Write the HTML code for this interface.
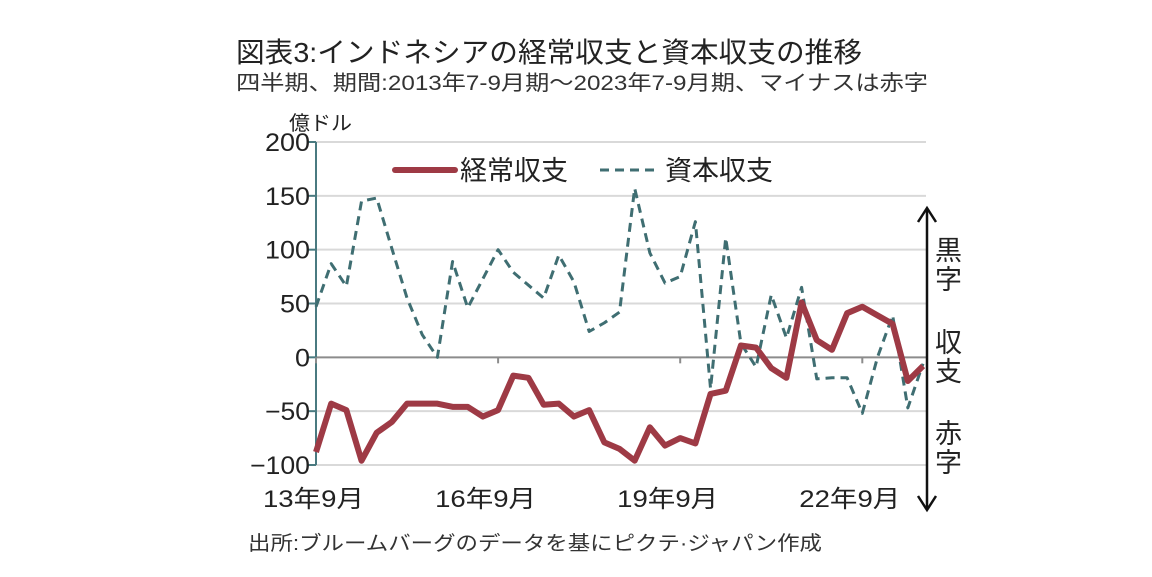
<!DOCTYPE html>
<html><head><meta charset="utf-8"><style>
html,body{margin:0;padding:0;background:#fff;}
svg{display:block;font-family:"Liberation Sans","Noto Sans CJK JP",sans-serif;}
</style></head><body>
<svg id="chart" width="1152" height="577" viewBox="0 0 1152 577" xmlns="http://www.w3.org/2000/svg">
<text x="236" y="62" font-size="28" fill="#222" textLength="626" lengthAdjust="spacingAndGlyphs">図表3:インドネシアの経常収支と資本収支の推移</text>
<text x="236" y="90" font-size="21" fill="#333" textLength="692" lengthAdjust="spacingAndGlyphs">四半期、期間:2013年7-9月期～2023年7-9月期、マイナスは赤字</text>
<text x="289" y="130" font-size="20" fill="#222" textLength="63" lengthAdjust="spacingAndGlyphs">億ドル</text>
<g id="grid"></g>
<g id="yaxis"></g>
<g id="xaxis"></g>
<g id="series"></g>
<g>
<line x1="395" y1="170" x2="455" y2="170" stroke="#9e3a45" stroke-width="6" stroke-linecap="round"/>
<text x="460" y="180" font-size="27" fill="#222" textLength="108" lengthAdjust="spacingAndGlyphs">経常収支</text>
<line x1="600" y1="170" x2="655" y2="170" stroke="#3f6e72" stroke-width="3" stroke-dasharray="9,6"/>
<text x="665" y="180" font-size="27" fill="#222" textLength="108" lengthAdjust="spacingAndGlyphs">資本収支</text>
</g>
<g>
<line x1="927" y1="208" x2="927" y2="510" stroke="#111" stroke-width="2.5"/>
<polyline points="918,222 927,208 936,222" fill="none" stroke="#111" stroke-width="2.5"/>
<polyline points="918,496 927,510 936,496" fill="none" stroke="#111" stroke-width="2.5"/>
<text font-size="27" fill="#222"><tspan x="935" y="260">黒</tspan><tspan x="935" y="289">字</tspan></text>
<text font-size="27" fill="#222"><tspan x="935" y="352">収</tspan><tspan x="935" y="381">支</tspan></text>
<text font-size="27" fill="#222"><tspan x="935" y="443">赤</tspan><tspan x="935" y="472">字</tspan></text>
</g>
<text x="248" y="550" font-size="20" fill="#333" textLength="574" lengthAdjust="spacingAndGlyphs">出所:ブルームバーグのデータを基にピクテ·ジャパン作成</text>
</svg>
<script>
const currentAccount=[-88,-43,-49,-96,-70,-60,-43,-43,-43,-46,-46,-55,-49,-17,-19,-44,-43,-55,-49,-79,-85,-96,-65,-82,-75,-80,-34,-31,11,9,-10,-19,51,16,7,41,47,39,31,-22,-8];
const capitalAccount=[47,87,66,145,148,101,55,21,0,89,46,73,100,79,67,55,95,70,24,32,42,157,97,69,75,126,-29,111,13,-9,58,18,65,-20,-19,-19,-52,0,39,-47,-6];
const yTicks=[200,150,100,50,0,-50,-100];
const xTickIdx=[0,12,24,36];
const xTickLabels=["13年9月","16年9月","19年9月","22年9月"];
const NS="http://www.w3.org/2000/svg";
const x0=316,x1=923,yTop=142,yBot=465,vMax=200,vMin=-100;
const n=currentAccount.length;
const xs=i=>x0+(x1-x0)*i/(n-1);
const ys=v=>yTop+(vMax-v)*(yBot-yTop)/(vMax-vMin);
function mk(tag,attrs,parent){const e=document.createElementNS(NS,tag);for(const k in attrs)e.setAttribute(k,attrs[k]);parent.appendChild(e);return e;}
const grid=document.getElementById('grid'),yax=document.getElementById('yaxis'),xax=document.getElementById('xaxis'),ser=document.getElementById('series');
yTicks.forEach(v=>{
  const g=mk('line',{x1:x0,x2:926,y1:ys(v),y2:ys(v),stroke:v===0?'#8c8c8c':'#d9d9d9','stroke-width':2},grid);
  
  
  const t=mk('line',{x1:x0-8,x2:x0,y1:ys(v),y2:ys(v),stroke:'#4a7a80','stroke-width':2},yax);
  
  
  const s=v<0?'−'+Math.abs(v):String(v);
  const l=mk('text',{x:x0-6,y:ys(v)+9,'font-size':25,'text-anchor':'end',fill:'#222',textLength:s.length*15,lengthAdjust:'spacingAndGlyphs'},yax);
  
  
  l.textContent=s;
});
const ax=mk('line',{x1:x0,x2:x0,y1:yTop,y2:yBot,stroke:'#4a7a80','stroke-width':2},yax);


xTickIdx.forEach((idx,k)=>{
  const t=mk('line',{x1:xs(idx),x2:xs(idx),y1:ys(0),y2:ys(0)+6,stroke:'#8c8c8c','stroke-width':2},xax);
  
  
  const l=mk('text',{x:xs(idx)+(k===0?-3:-13)-50,y:507,'font-size':24,fill:'#222',textLength:101,lengthAdjust:'spacingAndGlyphs'},xax);
  
  
  l.textContent=xTickLabels[k];
});
const cap=mk('polyline',{points:capitalAccount.map((v,i)=>xs(i)+','+ys(v)).join(' '),fill:'none',stroke:'#3f6e72','stroke-width':3,'stroke-dasharray':'9,6','stroke-linejoin':'round'},ser);


const ca=mk('polyline',{points:currentAccount.map((v,i)=>xs(i)+','+ys(v)).join(' '),fill:'none',stroke:'#9e3a45','stroke-width':6,'stroke-linejoin':'round'},ser);


</script>
</body></html>
